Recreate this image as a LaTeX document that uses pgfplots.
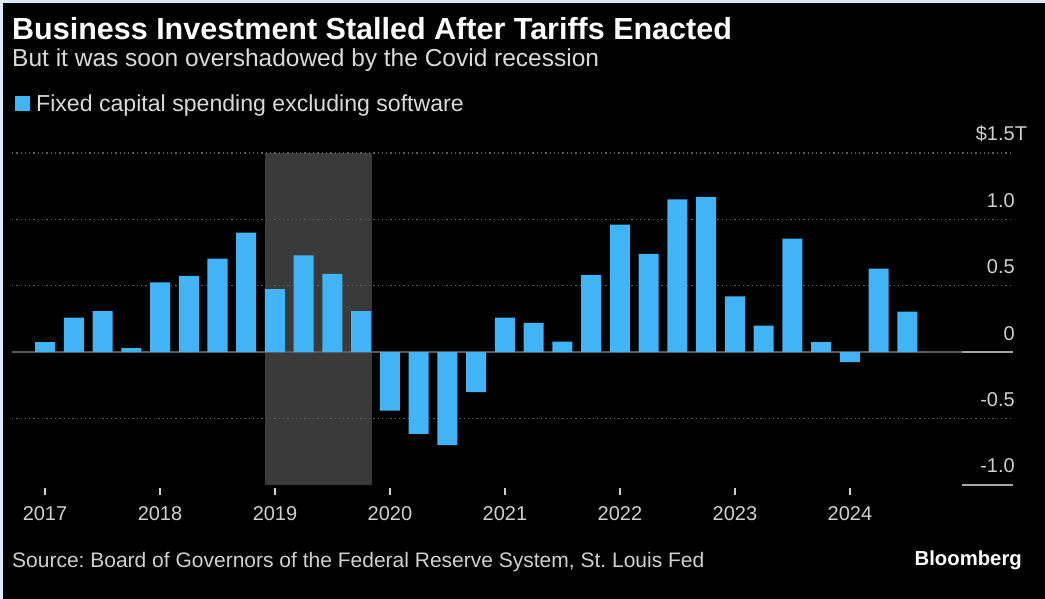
\documentclass[border=0pt]{standalone}
\usepackage{pgfplots}
\pgfplotsset{compat=1.18}
\usepackage{fontspec}
\setmainfont{Liberation Sans}
\frenchspacing
\definecolor{bg}{HTML}{000000}
\definecolor{barblue}{HTML}{40B4F5}
\definecolor{shadec}{HTML}{3A3A3A}
\definecolor{gridc}{HTML}{5C5C5C}
\definecolor{zeroc}{HTML}{5A5A5A}
\definecolor{txt}{HTML}{DADADA}
\definecolor{ticktxt}{HTML}{D0D0D0}
\definecolor{framec}{HTML}{DCEBF7}
\begin{document}
\begin{tikzpicture}[x=1pt,y=1pt]
\useasboundingbox (0,0) rectangle (1045,599);
\fill[bg] (0,0) rectangle (1045,599);
\fill[framec] (0,0) rectangle (3,599);
\fill[framec] (0,596) rectangle (1045,599);
\node[anchor=base west, inner sep=0pt, text=white, font=\bfseries\fontsize{30.5}{36}\selectfont] at (12,559) {Business Investment Stalled After Tariffs Enacted};
\node[anchor=base west, inner sep=0pt, text=txt, font=\fontsize{24.5}{29}\selectfont] at (12,532) {But it was soon overshadowed by the Covid recession};
\node[anchor=base west, inner sep=0pt, text=ticktxt, font=\fontsize{21}{25}\selectfont] at (12,31) {Source: Board of Governors of the Federal Reserve System, St. Louis Fed};
\node[anchor=base east, inner sep=0pt, text=white, font=\bfseries\fontsize{20.3}{24}\selectfont] at (1022,33) {Bloomberg};
\begin{axis}[
  at={(12pt,114pt)}, anchor=south west,
  scale only axis, width=1001pt, height=332pt,
  xmin=-1.148, xmax=33.67, ymin=-1, ymax=1.5,
  axis line style={draw=none},
  ytick=\empty,
  xtick={0,4,8,12,16,20,24,28},
  xticklabels={2017,2018,2019,2020,2021,2022,2023,2024},
  xtick pos=bottom,
  tick align=outside,
  major tick length=7pt,
  xtick style={draw=ticktxt, line width=1.3pt, yshift=-3pt},
  xticklabel style={text=ticktxt, font=\fontsize{20}{24}\selectfont, anchor=base, yshift=-29pt},
  clip=false,
  legend style={at={(axis description cs:0.003,1.149)}, anchor=west, draw=none, fill=none,
    inner sep=0pt, text=txt, font=\fontsize{23.1}{28}\selectfont,
    nodes={inner sep=0pt},
    /tikz/every odd column/.append style={column sep=6pt}},
  legend image code/.code={\fill[barblue] (0pt,-7.5pt) rectangle (15pt,7.5pt);},
]
\fill[shadec] (axis cs:7.65,-1) rectangle (axis cs:11.37,1.5);
\foreach \v in {1.5,1,0.5,-0.5}{
  \edef\temp{\noexpand\draw[gridc, line width=1.3pt, dash pattern=on 1.3pt off 3pt] (axis cs:-1.148,\v) -- (axis cs:33.67,\v);}
  \temp
}
\draw[zeroc, line width=1.5pt] (axis cs:-1.148,0) -- (axis cs:33.67,0);
\draw[gray!70, line width=1.5pt] (axis cs:31.9,0) -- (axis cs:33.67,0);
\draw[gray!70, line width=1.5pt] (axis cs:31.9,-1) -- (axis cs:33.67,-1);
\addplot[ybar, bar width=20pt, fill=barblue, draw=none] coordinates {
(0,0.075) (1,0.26) (2,0.31) (3,0.03) (4,0.525) (5,0.575) (6,0.705) (7,0.90)
(8,0.475) (9,0.73) (10,0.59) (11,0.31) (12,-0.44) (13,-0.615) (14,-0.70) (15,-0.30)
(16,0.26) (17,0.22) (18,0.08) (19,0.58) (20,0.96) (21,0.74) (22,1.15) (23,1.17)
(24,0.42) (25,0.20) (26,0.855) (27,0.075) (28,-0.075) (29,0.63) (30,0.305)
};
\addlegendentry{Fixed capital spending excluding software}
\begin{scope}[every node/.style={anchor=base east, inner sep=0pt, text=ticktxt, font=\fontsize{20}{24}\selectfont, xshift=2pt, yshift=12pt}]
\node at (axis cs:33.67,1.5) {\$1.5\rlap{T}};
\node at (axis cs:33.67,1) {1.0};
\node at (axis cs:33.67,0.5) {0.5};
\node at (axis cs:33.67,0) {0};
\node at (axis cs:33.67,-0.5) {-0.5};
\node at (axis cs:33.67,-1) {-1.0};
\end{scope}
\end{axis}
\end{tikzpicture}
\end{document}
